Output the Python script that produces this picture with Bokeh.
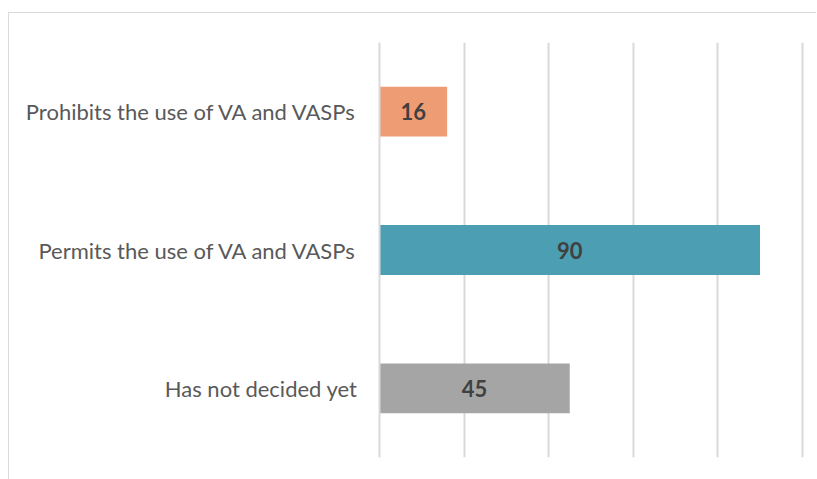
from bokeh.plotting import figure
from bokeh.models import ColumnDataSource, FactorRange, Range1d, FixedTicker
from bokeh.core.properties import value
from bokeh.embed import file_html
from bokeh.resources import INLINE

categories = ["Has not decided yet", "Permits the use of VA and VASPs", "Prohibits the use of VA and VASPs"]
counts = [45, 90, 16]
colors = ["#A5A5A5", "#4C9EB3", "#EE9C73"]
x_ticks = [0, 20, 40, 60, 80, 100]

src = ColumnDataSource(dict(cat=categories, val=counts, color=colors,
                            mid=[v / 2 for v in counts], lab=[str(v) for v in counts]))

p = figure(width=808, height=467, output_backend="svg", toolbar_location=None,
           y_range=FactorRange(factors=categories, range_padding=0),
           x_range=Range1d(0, 101),
           min_border_left=370, min_border_right=11, min_border_top=29, min_border_bottom=23)
p.margin = (12, 0, 0, 8)
p.styles = {"border-left": "1px solid #D9D9D9", "border-top": "1px solid #D9D9D9"}
p.outline_line_color = None

p.hbar(y="cat", right="val", left=0, height=0.36, color="color", line_color=None, source=src)
p.text(x="mid", y="cat", text="lab", source=src, text_align="center", text_baseline="middle",
       text_font=value("Lato"), text_font_style="bold", text_font_size="22px", text_color="#404040")

p.xaxis.visible = False
p.xaxis.ticker = FixedTicker(ticks=x_ticks)
p.xgrid.grid_line_color = "#D9D9D9"
p.xgrid.grid_line_width = 2
p.ygrid.grid_line_color = None

p.yaxis.axis_line_color = "#D9D9D9"
p.yaxis.axis_line_width = 2
p.yaxis.major_tick_line_color = None
p.yaxis.minor_tick_line_color = None
p.yaxis.major_tick_out = 0
p.yaxis.major_label_standoff = 22
p.yaxis.major_label_text_font = "Lato"
p.yaxis.major_label_text_font_size = "22px"
p.yaxis.major_label_text_color = "#595959"

open("out.html", "w").write(file_html(p, INLINE))
